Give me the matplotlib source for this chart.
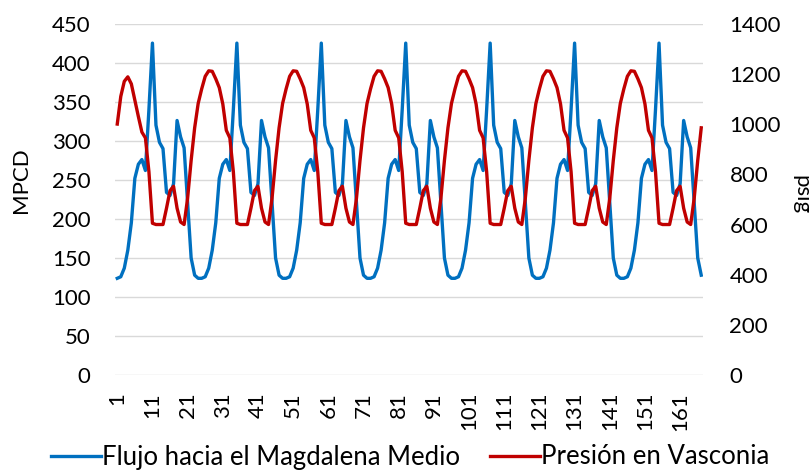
import matplotlib
matplotlib.use("Agg")
import matplotlib.pyplot as plt
from matplotlib.lines import Line2D

plt.rcParams['font.family'] = ['Lato', 'DejaVu Sans']

# Flujo hacia el Magdalena Medio (MPCD), una fila por día (24 h)
flujo = [
    124, 126, 137, 160, 195, 252, 270, 276, 262, 340, 425, 320, 298, 290, 234, 230, 245, 326, 305, 291, 220, 150, 128, 124,
    124, 126, 137, 160, 195, 252, 270, 276, 262, 340, 425, 320, 298, 290, 234, 230, 245, 326, 305, 291, 220, 150, 128, 124,
    124, 126, 137, 160, 195, 252, 270, 276, 262, 340, 425, 320, 298, 290, 234, 230, 245, 326, 305, 291, 220, 150, 128, 124,
    124, 126, 137, 160, 195, 252, 270, 276, 262, 340, 425, 320, 298, 290, 234, 230, 245, 326, 305, 291, 220, 150, 128, 124,
    124, 126, 137, 160, 195, 252, 270, 276, 262, 340, 425, 320, 298, 290, 234, 230, 245, 326, 305, 291, 220, 150, 128, 124,
    124, 126, 137, 160, 195, 252, 270, 276, 262, 340, 425, 320, 298, 290, 234, 230, 245, 326, 305, 291, 220, 150, 128, 124,
    124, 126, 137, 160, 195, 252, 270, 276, 262, 340, 425, 320, 298, 290, 234, 230, 245, 326, 305, 291, 220, 150, 128,
]

# Presión en Vasconia (psig)
presion = [
    1000, 1110, 1170, 1188, 1160, 1095, 1030, 968, 945, 810, 605, 600, 600, 600, 665, 735, 752, 665, 610, 600, 705, 855, 985, 1082,
    1140, 1190, 1212, 1210, 1180, 1145, 1080, 975, 945, 810, 605, 600, 600, 600, 665, 735, 752, 665, 610, 600, 705, 855, 985, 1082,
    1140, 1190, 1212, 1210, 1180, 1145, 1080, 975, 945, 810, 605, 600, 600, 600, 665, 735, 752, 665, 610, 600, 705, 855, 985, 1082,
    1140, 1190, 1212, 1210, 1180, 1145, 1080, 975, 945, 810, 605, 600, 600, 600, 665, 735, 752, 665, 610, 600, 705, 855, 985, 1082,
    1140, 1190, 1212, 1210, 1180, 1145, 1080, 975, 945, 810, 605, 600, 600, 600, 665, 735, 752, 665, 610, 600, 705, 855, 985, 1082,
    1140, 1190, 1212, 1210, 1180, 1145, 1080, 975, 945, 810, 605, 600, 600, 600, 665, 735, 752, 665, 610, 600, 705, 855, 985, 1082,
    1140, 1190, 1212, 1210, 1180, 1145, 1080, 975, 945, 810, 605, 600, 600, 600, 665, 735, 752, 665, 610, 600, 705, 855, 985,
]

horas = list(range(1, len(flujo) + 1))
xticks = list(range(1, 162, 10))
yticks_izq = list(range(0, 451, 50))
yticks_der = list(range(0, 1401, 200))

azul = '#0070C0'
rojo = '#C00000'
fs = 16
fs_leg = 18.5

W, H = 812, 470
fig = plt.figure(figsize=(W / 100, H / 100), dpi=100)
left, right, top, bottom = 115.5, 703, 23.6, 375.2
ax = fig.add_axes([left / W, 1 - bottom / H, (right - left) / W, (bottom - top) / H])

ax.plot(horas, flujo, color=azul, lw=2.4, solid_joinstyle='round')
ax.set_xlim(0.5, len(horas) + 0.5)
ax.set_ylim(0, 450)
ax.set_yticks(yticks_izq)
ax.set_xticks(xticks)
ax.set_xticklabels([str(t) for t in xticks], rotation=90)
ax.yaxis.grid(True, color='#D9D9D9', lw=1)
ax.set_axisbelow(True)
ax.tick_params(axis='y', length=0, pad=18, labelsize=fs)
ax.tick_params(axis='x', length=0, pad=12, labelsize=fs)

ax2 = ax.twinx()
ax2.plot(horas, presion, color=rojo, lw=2.4, solid_joinstyle='round')
ax2.set_ylim(0, 1400)
ax2.set_yticks(yticks_der)
ax2.tick_params(axis='y', length=0, pad=19, labelsize=fs)

for a in (ax, ax2):
    for s in a.spines.values():
        s.set_visible(False)

fig.text(21 / W, 1 - 180 / H, 'MPCD', rotation=90, ha='center', va='center', fontsize=fs)
fig.text(801 / W, 1 - 195 / H, 'psig', rotation=270, ha='center', va='center', fontsize=fs)

handles = [Line2D([], [], color=azul, lw=2.4), Line2D([], [], color=rojo, lw=2.4)]
fig.legend(handles, ['Flujo hacia el Magdalena Medio', 'Presión en Vasconia'],
           loc='center', bbox_to_anchor=(0.505, 1 - 457 / H), ncol=2, frameon=False,
           fontsize=fs_leg, handlelength=1.95, handletextpad=0.05, columnspacing=1.15,
           borderpad=0, borderaxespad=0)

fig.savefig('out.png', dpi=100)
